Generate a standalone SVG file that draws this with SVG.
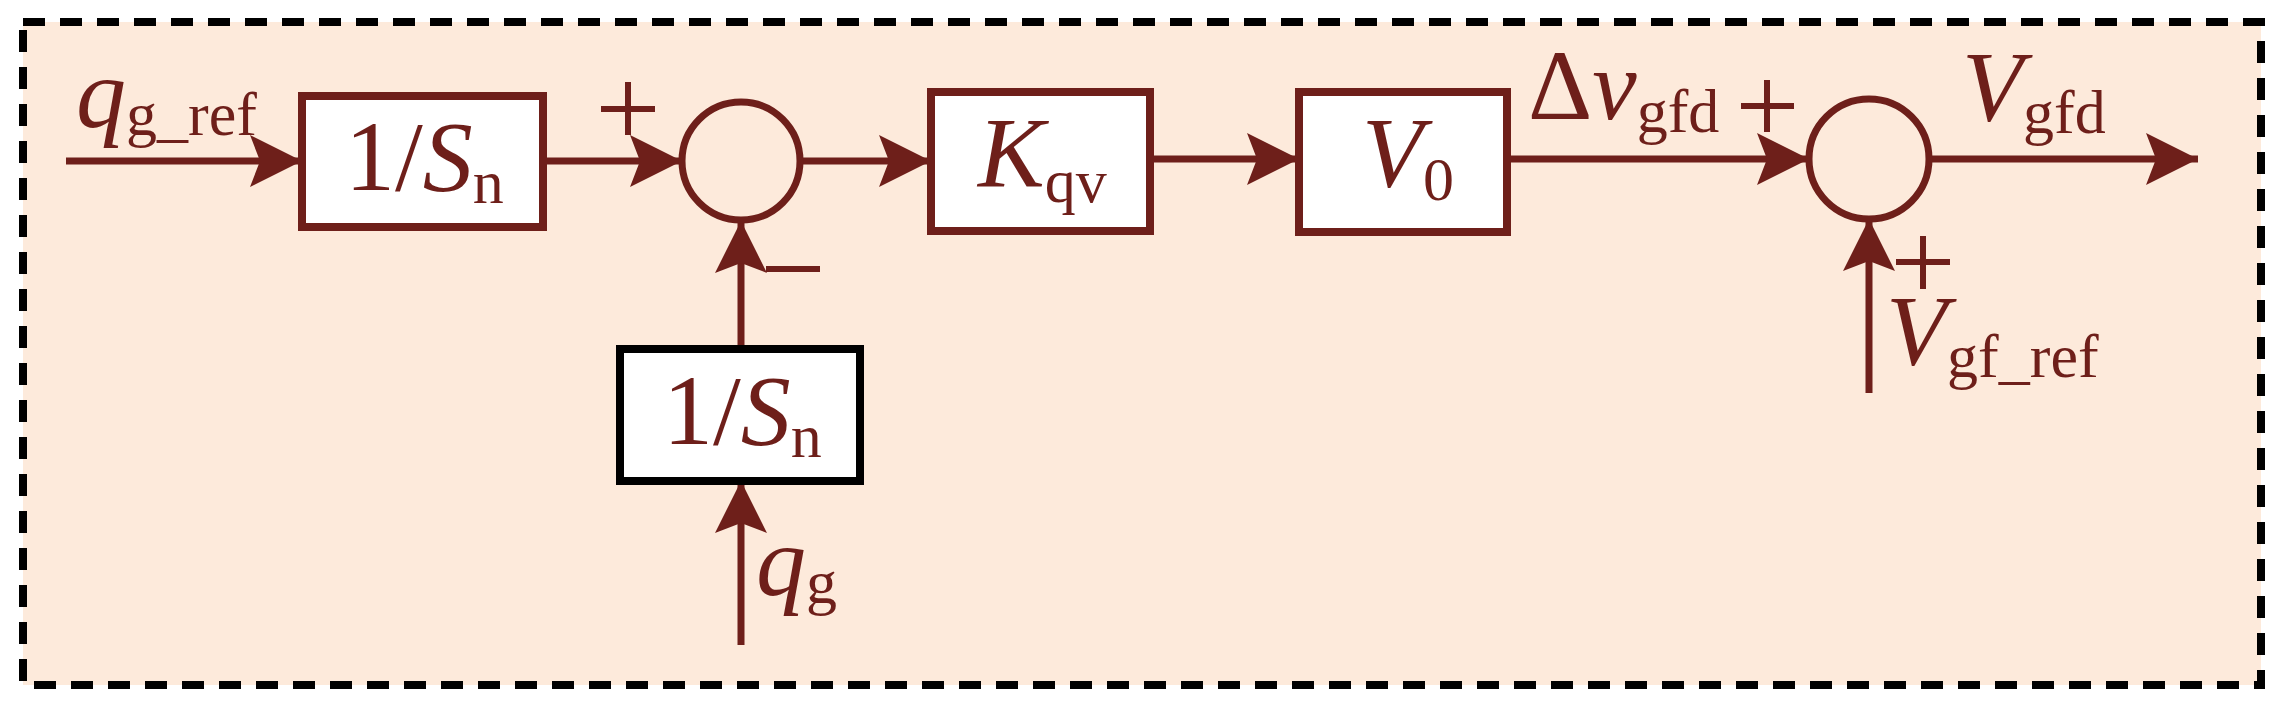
<svg xmlns="http://www.w3.org/2000/svg" width="2291" height="713" viewBox="0 0 2291 713">
<defs>
<marker id="ah" markerUnits="userSpaceOnUse" markerWidth="56" markerHeight="56" viewBox="0 0 56 56" refX="52" refY="28" orient="auto"><path d="M0,2 L52,28 L0,54 L10,28 Z" fill="#6e1f1a"/></marker>
<style>
.ln{stroke:#6e1f1a;stroke-width:7;fill:none}
.bx{fill:#fff;stroke:#6e1f1a;stroke-width:8}
.t{font-family:"Liberation Serif",serif;fill:#6e1f1a;font-size:100px}
.i{font-style:italic}
.s{font-size:62px;font-style:normal}
.sg{stroke:#6e1f1a;stroke-width:6}
</style>
</defs>
<rect x="0" y="0" width="2291" height="713" fill="#fff"/>
<rect x="23" y="22" width="2238" height="663" fill="#fdeadb" stroke="#000" stroke-width="8" stroke-dasharray="22,15"/>
<g id="connectors">
<line class="ln" x1="66" y1="161" x2="302" y2="161" marker-end="url(#ah)"/>
<line class="ln" x1="543" y1="161" x2="682" y2="161" marker-end="url(#ah)"/>
<line class="ln" x1="800" y1="161" x2="931" y2="161" marker-end="url(#ah)"/>
<line class="ln" x1="1150" y1="159" x2="1299" y2="159" marker-end="url(#ah)"/>
<line class="ln" x1="1507" y1="159" x2="1809" y2="159" marker-end="url(#ah)"/>
<line class="ln" x1="1929" y1="159" x2="2198" y2="159" marker-end="url(#ah)"/>
<line class="ln" x1="741" y1="349" x2="741" y2="221" marker-end="url(#ah)"/>
<line class="ln" x1="741" y1="645" x2="741" y2="481" marker-end="url(#ah)"/>
<line class="ln" x1="1869" y1="393" x2="1869" y2="219" marker-end="url(#ah)"/>
</g>
<g id="box1"><rect class="bx" x="302" y="96" width="241" height="131"/><text class="t" x="345" y="190">1/<tspan class="i">S</tspan><tspan class="s" dy="13">n</tspan></text></g>
<g id="sum1"><circle cx="741" cy="161" r="59" fill="none" stroke="#6e1f1a" stroke-width="7"/></g>
<g id="box2"><rect x="620" y="349" width="240" height="132" fill="#fff" stroke="#000" stroke-width="8"/><text class="t" x="663" y="444">1/<tspan class="i">S</tspan><tspan class="s" dy="13">n</tspan></text></g>
<g id="kqv"><rect class="bx" x="931" y="92" width="219" height="139"/><text class="t i" x="978" y="186">K<tspan class="s" dy="16">qv</tspan></text></g>
<g id="v0"><rect class="bx" x="1299" y="92" width="208" height="140"/><text class="t i" x="1362" y="186">V<tspan class="s" dy="14">0</tspan></text></g>
<g id="sum2"><circle cx="1869" cy="159" r="60" fill="none" stroke="#6e1f1a" stroke-width="7"/></g>
<g id="labels">
<text class="t i" x="76" y="127">q<tspan class="s" dy="8">g_ref</tspan></text>
<text class="t i" x="756" y="595">q<tspan class="s" dy="8">g</tspan></text>
<text class="t" x="1528" y="119">Δ<tspan class="i">v</tspan><tspan class="s" dy="13">gfd</tspan></text>
<text class="t i" x="1962" y="120">V<tspan class="s" dy="13">gfd</tspan></text>
<text class="t i" x="1886" y="364">V<tspan class="s" dy="13">gf_ref</tspan></text>
<path class="sg" d="M601,109 H655 M628,82 V135"/>
<line class="sg" x1="766" y1="269" x2="820" y2="269"/>
<path class="sg" d="M1741,106 H1794 M1767,80 V132"/>
<path class="sg" d="M1896,262 H1950 M1923,236 V289"/>
</g>
</svg>
